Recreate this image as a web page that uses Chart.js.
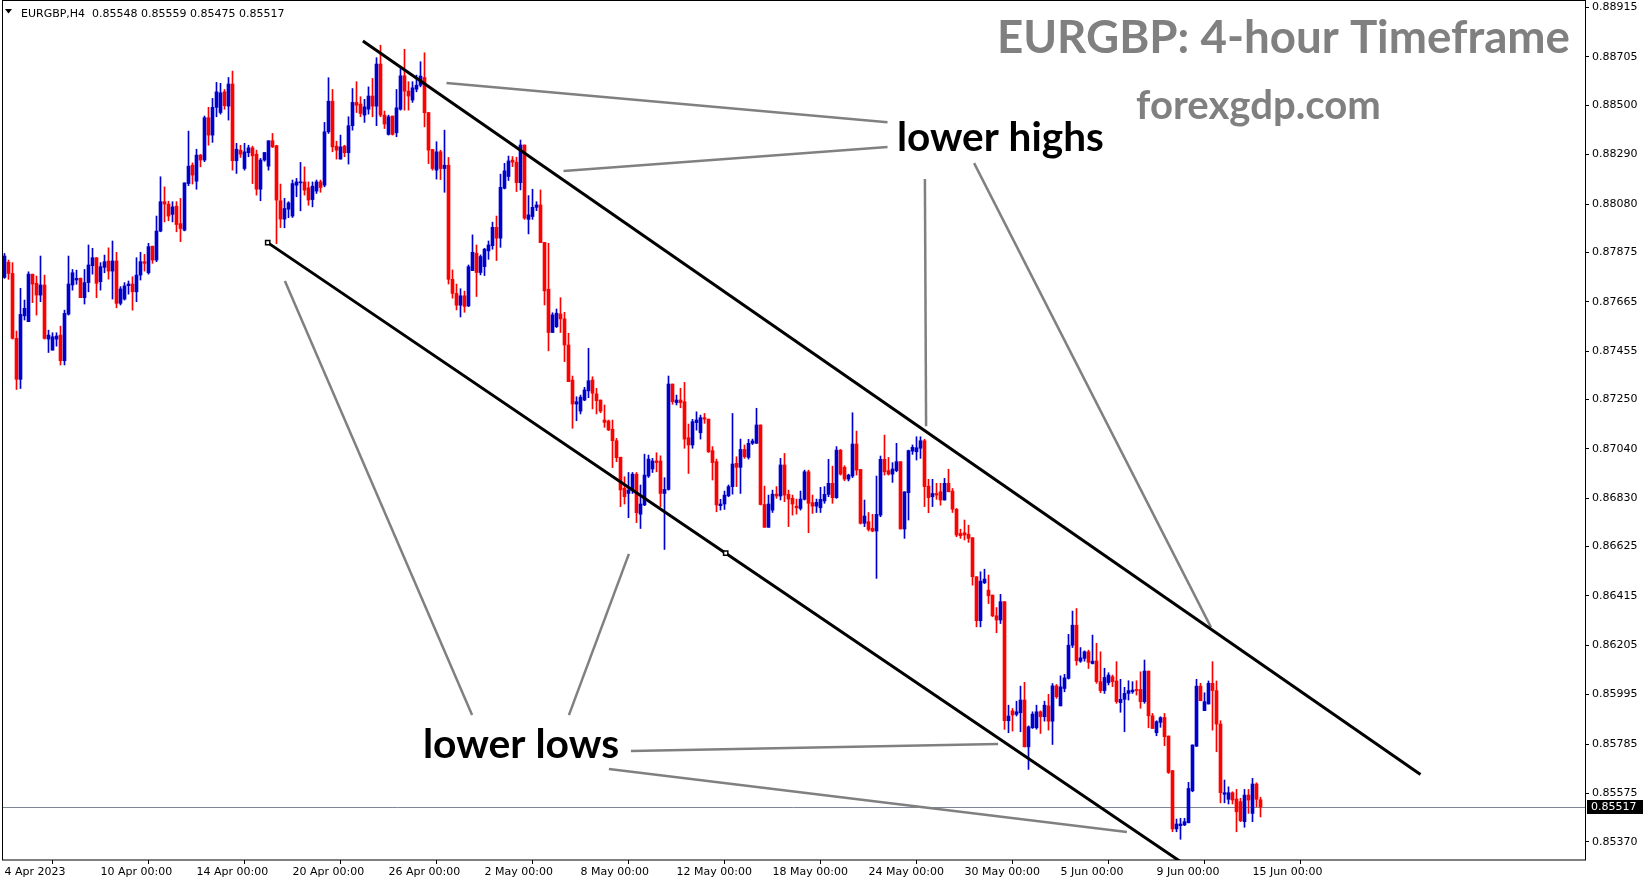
<!DOCTYPE html>
<html>
<head>
<meta charset="utf-8">
<script src="https://cdn.jsdelivr.net/npm/chart.js@4.4.0/dist/chart.umd.min.js"></script>
<style>
  html, body { margin: 0; padding: 0; background: #fff; }
  #wrap { width: 1649px; height: 884px; }
</style>
</head>
<body>
<div id="wrap"><canvas id="chartEurgbp" width="1649" height="884"></canvas></div>
<script>
const SYMBOL = 'EURGBP,H4';

// H4 candles, 4 Apr 2023 00:00 -> 15 Jun 2023 08:00 (one entry per bar)
const OPEN = [
  0.87768, 0.87833, 0.87785, 0.87509, 0.87335, 0.87605, 0.87580, 0.87782, 0.87743, 0.87693,
  0.87736, 0.87506, 0.87459, 0.87506, 0.87523, 0.87414, 0.87612, 0.87736, 0.87757, 0.87765,
  0.87682, 0.87746, 0.87818, 0.87852, 0.87750, 0.87811, 0.87838, 0.87795, 0.87838, 0.87658,
  0.87676, 0.87733, 0.87740, 0.87707, 0.87778, 0.87835, 0.87788, 0.87901, 0.87842, 0.87965,
  0.88090, 0.88080, 0.88036, 0.88071, 0.87997, 0.87969, 0.88167, 0.88245, 0.88177, 0.88288,
  0.88267, 0.88447, 0.88373, 0.88491, 0.88469, 0.88557, 0.88496, 0.88590, 0.88264, 0.88309,
  0.88231, 0.88298, 0.88319, 0.88292, 0.88143, 0.88267, 0.88241, 0.88349, 0.88328, 0.88094,
  0.88016, 0.88058, 0.88029, 0.88160, 0.88170, 0.88174, 0.88149, 0.88099, 0.88135, 0.88174,
  0.88160, 0.88387, 0.88517, 0.88326, 0.88271, 0.88326, 0.88298, 0.88413, 0.88512, 0.88505,
  0.88458, 0.88483, 0.88539, 0.88496, 0.88675, 0.88458, 0.88376, 0.88454, 0.88383, 0.88483,
  0.88625, 0.88560, 0.88522, 0.88568, 0.88585, 0.88618, 0.88469, 0.88312, 0.88224, 0.88302,
  0.88231, 0.88245, 0.87760, 0.87700, 0.87650, 0.87690, 0.87647, 0.87797, 0.87871, 0.87789,
  0.87814, 0.87881, 0.87903, 0.87981, 0.87935, 0.88147, 0.88197, 0.88267, 0.88258, 0.88171,
  0.88331, 0.88015, 0.88027, 0.88066, 0.88076, 0.87917, 0.87718, 0.87534, 0.87559, 0.87613,
  0.87592, 0.87481, 0.87332, 0.87230, 0.87200, 0.87247, 0.87286, 0.87332, 0.87273, 0.87247,
  0.87162, 0.87158, 0.87123, 0.87074, 0.87004, 0.86872, 0.86850, 0.86864, 0.86932, 0.86762,
  0.86801, 0.86924, 0.86954, 0.86988, 0.86988, 0.86850, 0.86867, 0.87315, 0.87236, 0.87247,
  0.87240, 0.87087, 0.87056, 0.87151, 0.87108, 0.87172, 0.87166, 0.87032, 0.86985, 0.86798,
  0.86805, 0.86840, 0.86879, 0.86978, 0.86961, 0.87037, 0.87003, 0.87063, 0.87063, 0.87141,
  0.86803, 0.86706, 0.86779, 0.86847, 0.86839, 0.86971, 0.86846, 0.86829, 0.86796, 0.86786,
  0.86825, 0.86942, 0.86811, 0.86796, 0.86789, 0.86818, 0.86846, 0.86893, 0.86832, 0.87034,
  0.86961, 0.86911, 0.86924, 0.87060, 0.86952, 0.86723, 0.86730, 0.86702, 0.86690, 0.86758,
  0.86995, 0.86947, 0.86932, 0.86947, 0.86985, 0.86699, 0.86853, 0.87030, 0.87027, 0.87042,
  0.87074, 0.86881, 0.86836, 0.86850, 0.86857, 0.86822, 0.86893, 0.86860, 0.86783, 0.86680,
  0.86683, 0.86677, 0.86662, 0.86496, 0.86309, 0.86470, 0.86439, 0.86418, 0.86330, 0.86312,
  0.86390, 0.85884, 0.85926, 0.85911, 0.85918, 0.85972, 0.85773, 0.85854, 0.85854, 0.85922,
  0.85901, 0.85947, 0.85882, 0.86032, 0.85947, 0.86021, 0.86064, 0.86205, 0.86290, 0.86137,
  0.86149, 0.86177, 0.86127, 0.86138, 0.86050, 0.86012, 0.86046, 0.86071, 0.86053, 0.85961,
  0.85975, 0.86000, 0.86007, 0.86017, 0.86017, 0.85965, 0.86095, 0.85905, 0.85833, 0.85877,
  0.85898, 0.85819, 0.85672, 0.85424, 0.85438, 0.85441, 0.85450, 0.85586, 0.85776, 0.86031,
  0.85927, 0.85955, 0.86043, 0.86012, 0.85870, 0.85571, 0.85550, 0.85578, 0.85551, 0.85540,
  0.85455, 0.85568, 0.85490, 0.85615, 0.85548
];
const HIGH = [
  0.87870, 0.87842, 0.87831, 0.87540, 0.87722, 0.87672, 0.87792, 0.87782, 0.87774, 0.87859,
  0.87778, 0.87544, 0.87533, 0.87533, 0.87561, 0.87629, 0.87859, 0.87802, 0.87799, 0.87765,
  0.87802, 0.87906, 0.87892, 0.87852, 0.87831, 0.87863, 0.87894, 0.87923, 0.87875, 0.87729,
  0.87746, 0.87753, 0.87771, 0.87852, 0.87875, 0.87866, 0.87913, 0.87901, 0.88029, 0.88196,
  0.88153, 0.88092, 0.88090, 0.88090, 0.88104, 0.88170, 0.88390, 0.88255, 0.88313, 0.88291,
  0.88454, 0.88491, 0.88529, 0.88597, 0.88593, 0.88567, 0.88618, 0.88645, 0.88338, 0.88330,
  0.88338, 0.88330, 0.88326, 0.88309, 0.88274, 0.88299, 0.88349, 0.88380, 0.88330, 0.88165,
  0.88104, 0.88090, 0.88182, 0.88189, 0.88257, 0.88238, 0.88174, 0.88174, 0.88182, 0.88182,
  0.88427, 0.88617, 0.88567, 0.88347, 0.88373, 0.88330, 0.88451, 0.88571, 0.88600, 0.88536,
  0.88525, 0.88578, 0.88614, 0.88702, 0.88755, 0.88475, 0.88458, 0.88454, 0.88567, 0.88656,
  0.88738, 0.88600, 0.88600, 0.88628, 0.88685, 0.88723, 0.88469, 0.88312, 0.88345, 0.88309,
  0.88394, 0.88278, 0.87800, 0.87740, 0.87720, 0.87710, 0.87821, 0.87949, 0.87906, 0.87864,
  0.87892, 0.87923, 0.88003, 0.88029, 0.88207, 0.88253, 0.88284, 0.88282, 0.88279, 0.88352,
  0.88331, 0.88116, 0.88143, 0.88090, 0.88140, 0.87917, 0.87913, 0.87618, 0.87634, 0.87682,
  0.87620, 0.87531, 0.87349, 0.87261, 0.87268, 0.87301, 0.87467, 0.87346, 0.87297, 0.87247,
  0.87226, 0.87162, 0.87162, 0.87084, 0.87004, 0.86921, 0.86939, 0.86939, 0.86939, 0.86886,
  0.87017, 0.87013, 0.86999, 0.87023, 0.87010, 0.86917, 0.87349, 0.87315, 0.87268, 0.87297,
  0.87322, 0.87145, 0.87165, 0.87197, 0.87183, 0.87190, 0.87166, 0.87049, 0.86996, 0.86825,
  0.86860, 0.86886, 0.87190, 0.87006, 0.87081, 0.87056, 0.87080, 0.87081, 0.87212, 0.87141,
  0.86881, 0.86843, 0.86864, 0.86879, 0.86999, 0.87020, 0.86864, 0.86843, 0.86826, 0.86860,
  0.86949, 0.86949, 0.86843, 0.86826, 0.86876, 0.86879, 0.86995, 0.86966, 0.87049, 0.87037,
  0.86968, 0.86932, 0.87193, 0.87115, 0.86952, 0.86822, 0.86769, 0.86761, 0.86924, 0.87009,
  0.87098, 0.87003, 0.86981, 0.87063, 0.86985, 0.86857, 0.87034, 0.87056, 0.87091, 0.87091,
  0.87080, 0.86910, 0.86910, 0.86893, 0.86893, 0.86914, 0.86953, 0.86871, 0.86786, 0.86698,
  0.86737, 0.86715, 0.86662, 0.86496, 0.86517, 0.86528, 0.86503, 0.86418, 0.86365, 0.86421,
  0.86390, 0.85950, 0.85936, 0.85967, 0.86031, 0.86047, 0.85862, 0.85922, 0.85950, 0.85926,
  0.85967, 0.85996, 0.86042, 0.86038, 0.86075, 0.86081, 0.86251, 0.86350, 0.86361, 0.86195,
  0.86181, 0.86184, 0.86248, 0.86213, 0.86177, 0.86107, 0.86088, 0.86078, 0.86135, 0.86060,
  0.86026, 0.86054, 0.86050, 0.86054, 0.86092, 0.86142, 0.86095, 0.85915, 0.85884, 0.85901,
  0.85915, 0.85819, 0.85672, 0.85466, 0.85469, 0.85469, 0.85622, 0.85781, 0.86060, 0.86043,
  0.86003, 0.86053, 0.86135, 0.86053, 0.85884, 0.85632, 0.85603, 0.85582, 0.85592, 0.85554,
  0.85592, 0.85592, 0.85639, 0.85620, 0.85559
];
const LOW = [
  0.87764, 0.87760, 0.87506, 0.87292, 0.87296, 0.87587, 0.87580, 0.87661, 0.87608, 0.87665,
  0.87506, 0.87449, 0.87459, 0.87476, 0.87396, 0.87396, 0.87608, 0.87714, 0.87739, 0.87682,
  0.87655, 0.87707, 0.87782, 0.87682, 0.87714, 0.87788, 0.87761, 0.87676, 0.87639, 0.87651,
  0.87672, 0.87697, 0.87629, 0.87665, 0.87757, 0.87795, 0.87782, 0.87828, 0.87835, 0.87962,
  0.88004, 0.88009, 0.88004, 0.87962, 0.87920, 0.87966, 0.88158, 0.88165, 0.88143, 0.88238,
  0.88260, 0.88330, 0.88342, 0.88451, 0.88462, 0.88483, 0.88437, 0.88224, 0.88210, 0.88278,
  0.88224, 0.88281, 0.88167, 0.88118, 0.88094, 0.88262, 0.88224, 0.88320, 0.87912, 0.87980,
  0.87979, 0.88022, 0.88023, 0.88111, 0.88051, 0.88118, 0.88075, 0.88068, 0.88125, 0.88130,
  0.88153, 0.88380, 0.88302, 0.88271, 0.88271, 0.88281, 0.88250, 0.88394, 0.88469, 0.88451,
  0.88427, 0.88462, 0.88451, 0.88413, 0.88451, 0.88401, 0.88373, 0.88373, 0.88366, 0.88479,
  0.88479, 0.88479, 0.88512, 0.88557, 0.88578, 0.88408, 0.88252, 0.88224, 0.88186, 0.88184,
  0.88130, 0.87740, 0.87680, 0.87630, 0.87600, 0.87620, 0.87644, 0.87797, 0.87687, 0.87779,
  0.87776, 0.87845, 0.87888, 0.87840, 0.87896, 0.88144, 0.88180, 0.88239, 0.88133, 0.88140,
  0.88015, 0.87953, 0.88015, 0.88052, 0.87916, 0.87651, 0.87456, 0.87534, 0.87555, 0.87534,
  0.87410, 0.87325, 0.87127, 0.87159, 0.87188, 0.87244, 0.87257, 0.87209, 0.87188, 0.87193,
  0.87131, 0.87117, 0.86960, 0.86985, 0.86794, 0.86805, 0.86747, 0.86850, 0.86726, 0.86701,
  0.86798, 0.86918, 0.86939, 0.86942, 0.86794, 0.86612, 0.86864, 0.87229, 0.87226, 0.87214,
  0.87042, 0.86935, 0.87042, 0.87119, 0.87081, 0.87148, 0.87024, 0.86907, 0.86772, 0.86779,
  0.86782, 0.86836, 0.86847, 0.86879, 0.86850, 0.86999, 0.86996, 0.87058, 0.87063, 0.86801,
  0.86706, 0.86706, 0.86769, 0.86829, 0.86822, 0.86815, 0.86709, 0.86758, 0.86762, 0.86779,
  0.86822, 0.86683, 0.86765, 0.86769, 0.86769, 0.86808, 0.86836, 0.86808, 0.86829, 0.86928,
  0.86904, 0.86903, 0.86917, 0.86928, 0.86720, 0.86709, 0.86690, 0.86687, 0.86489, 0.86751,
  0.86928, 0.86928, 0.86897, 0.86942, 0.86699, 0.86659, 0.86737, 0.87016, 0.86992, 0.86999,
  0.86794, 0.86768, 0.86794, 0.86825, 0.86800, 0.86822, 0.86857, 0.86769, 0.86666, 0.86659,
  0.86652, 0.86642, 0.86460, 0.86283, 0.86283, 0.86467, 0.86382, 0.86326, 0.86258, 0.86297,
  0.85847, 0.85833, 0.85840, 0.85904, 0.85837, 0.85773, 0.85677, 0.85851, 0.85848, 0.85830,
  0.85882, 0.85844, 0.85783, 0.85979, 0.85947, 0.86007, 0.86061, 0.86195, 0.86120, 0.86132,
  0.86137, 0.86106, 0.86125, 0.86043, 0.86003, 0.86000, 0.86036, 0.86029, 0.85958, 0.85920,
  0.85837, 0.85972, 0.86000, 0.85993, 0.85937, 0.85958, 0.85854, 0.85851, 0.85820, 0.85856,
  0.85778, 0.85660, 0.85412, 0.85412, 0.85380, 0.85438, 0.85450, 0.85582, 0.85774, 0.85969,
  0.85927, 0.85955, 0.85844, 0.85752, 0.85535, 0.85535, 0.85530, 0.85530, 0.85412, 0.85455,
  0.85431, 0.85490, 0.85455, 0.85518, 0.85475
];
const CLOSE = [
  0.87859, 0.87785, 0.87509, 0.87335, 0.87611, 0.87637, 0.87782, 0.87740, 0.87693, 0.87736,
  0.87509, 0.87523, 0.87516, 0.87519, 0.87414, 0.87615, 0.87740, 0.87788, 0.87764, 0.87682,
  0.87746, 0.87821, 0.87852, 0.87743, 0.87814, 0.87835, 0.87795, 0.87838, 0.87658, 0.87719,
  0.87732, 0.87740, 0.87707, 0.87778, 0.87835, 0.87828, 0.87899, 0.87842, 0.87965, 0.88090,
  0.88080, 0.88029, 0.88068, 0.87993, 0.87976, 0.88170, 0.88241, 0.88203, 0.88288, 0.88267,
  0.88447, 0.88373, 0.88491, 0.88557, 0.88553, 0.88498, 0.88590, 0.88264, 0.88313, 0.88292,
  0.88302, 0.88319, 0.88285, 0.88143, 0.88267, 0.88299, 0.88349, 0.88323, 0.88097, 0.88016,
  0.88061, 0.88085, 0.88167, 0.88174, 0.88174, 0.88139, 0.88097, 0.88156, 0.88174, 0.88150,
  0.88387, 0.88517, 0.88323, 0.88309, 0.88323, 0.88298, 0.88413, 0.88512, 0.88500, 0.88465,
  0.88493, 0.88539, 0.88496, 0.88675, 0.88458, 0.88420, 0.88451, 0.88376, 0.88489, 0.88625,
  0.88560, 0.88539, 0.88574, 0.88585, 0.88624, 0.88468, 0.88309, 0.88231, 0.88302, 0.88231,
  0.88245, 0.87760, 0.87700, 0.87650, 0.87690, 0.87645, 0.87814, 0.87875, 0.87789, 0.87857,
  0.87888, 0.87906, 0.87981, 0.87935, 0.88151, 0.88221, 0.88263, 0.88258, 0.88171, 0.88331,
  0.88020, 0.88034, 0.88066, 0.88076, 0.87916, 0.87711, 0.87534, 0.87609, 0.87616, 0.87592,
  0.87481, 0.87325, 0.87230, 0.87240, 0.87259, 0.87290, 0.87329, 0.87276, 0.87244, 0.87200,
  0.87152, 0.87120, 0.87074, 0.87002, 0.86865, 0.86836, 0.86864, 0.86932, 0.86768, 0.86805,
  0.86928, 0.86996, 0.86988, 0.86981, 0.86850, 0.86867, 0.87315, 0.87240, 0.87247, 0.87236,
  0.87081, 0.87056, 0.87155, 0.87162, 0.87172, 0.87166, 0.87027, 0.86981, 0.86801, 0.86805,
  0.86843, 0.86879, 0.86975, 0.86961, 0.87037, 0.87006, 0.87063, 0.87073, 0.87141, 0.86803,
  0.86706, 0.86805, 0.86847, 0.86839, 0.86971, 0.86843, 0.86826, 0.86805, 0.86789, 0.86826,
  0.86942, 0.86808, 0.86796, 0.86812, 0.86825, 0.86846, 0.86893, 0.86832, 0.87034, 0.86932,
  0.86911, 0.86928, 0.87060, 0.86949, 0.86723, 0.86754, 0.86697, 0.86690, 0.86761, 0.86995,
  0.86942, 0.86932, 0.86954, 0.86985, 0.86699, 0.86857, 0.87032, 0.87046, 0.87044, 0.87074,
  0.86879, 0.86832, 0.86850, 0.86843, 0.86822, 0.86893, 0.86857, 0.86783, 0.86673, 0.86670,
  0.86673, 0.86659, 0.86496, 0.86309, 0.86477, 0.86486, 0.86415, 0.86330, 0.86312, 0.86390,
  0.85884, 0.85904, 0.85908, 0.85922, 0.85972, 0.85773, 0.85858, 0.85912, 0.85922, 0.85901,
  0.85950, 0.85882, 0.86032, 0.85986, 0.86028, 0.86066, 0.86205, 0.86290, 0.86139, 0.86151,
  0.86177, 0.86132, 0.86137, 0.86050, 0.86012, 0.86068, 0.86078, 0.86050, 0.85965, 0.85975,
  0.86000, 0.86012, 0.86014, 0.86012, 0.85965, 0.86095, 0.85905, 0.85851, 0.85880, 0.85897,
  0.85816, 0.85664, 0.85424, 0.85445, 0.85445, 0.85455, 0.85596, 0.85781, 0.86031, 0.85969,
  0.85965, 0.86043, 0.86012, 0.85870, 0.85578, 0.85578, 0.85578, 0.85547, 0.85497, 0.85459,
  0.85568, 0.85547, 0.85615, 0.85550, 0.85517
];

// time axis labels and the bar they sit on
const X_TICK_BARS = [0, 24, 48, 72, 96, 120, 144, 168, 192, 216, 240, 264, 288, 312];
const X_TICK_LABELS = ['4 Apr 2023', '10 Apr 00:00', '14 Apr 00:00', '20 Apr 00:00', '26 Apr 00:00',
  '2 May 00:00', '8 May 00:00', '12 May 00:00', '18 May 00:00', '24 May 00:00', '30 May 00:00',
  '5 Jun 00:00', '9 Jun 00:00', '15 Jun 00:00'];
const Y_TICK_LABELS = ['0.88915', '0.88705', '0.88500', '0.88290', '0.88080', '0.87875', '0.87665',
  '0.87455', '0.87250', '0.87040', '0.86830', '0.86625', '0.86415', '0.86205', '0.85995',
  '0.85785', '0.85575', '0.85370'];

// drawn objects, in (bar, price)
const CHANNEL_UPPER = [{ x: 89.6, y: 0.88773 }, { x: 354, y: 0.85655 }];
const CHANNEL_LOWER = [{ x: 65.8, y: 0.87916 }, { x: 180.3, y: 0.86596 }, { x: 300, y: 0.85216 }];
const POINTER_LINES = [
  [{ x: 110.5, y: 0.88594 }, { x: 220.75, y: 0.88428 }],
  [{ x: 139.75, y: 0.88220 }, { x: 220.75, y: 0.88322 }],
  [{ x: 230.1, y: 0.88186 }, { x: 230.4, y: 0.87136 }],
  [{ x: 242.4, y: 0.88254 }, { x: 301.6, y: 0.86282 }],
  [{ x: 70.1, y: 0.87753 }, { x: 116.9, y: 0.85908 }],
  [{ x: 156.1, y: 0.86593 }, { x: 141.1, y: 0.85908 }],
  [{ x: 156.6, y: 0.85755 }, { x: 248.4, y: 0.85785 }],
  [{ x: 151.1, y: 0.85679 }, { x: 280.6, y: 0.85411 }]
];
const NOTES = [
  { text: 'EURGBP: 4-hour Timeframe', x: 248.1, y: 0.88786, w: 573, color: '#808080' },
  { text: 'forexgdp.com', x: 282.9, y: 0.88496, w: 245, color: '#808080' },
  { text: 'lower highs', x: 223.1, y: 0.88360, w: 207, color: '#000000' },
  { text: 'lower lows', x: 104.6, y: 0.85781, w: 196, color: '#000000' }
];

const BULL = '#0000cd';
const BEAR = '#ff0000';
const AXIS_FONT = { family: 'DejaVu Sans', size: 11 };

const bars = OPEN.map((_, i) => i);
const wicks = bars.map(i => ({ x: i, y: [LOW[i], HIGH[i]] }));
const bodies = bars.map(i => ({ x: i, y: [Math.min(OPEN[i], CLOSE[i]), Math.max(OPEN[i], CLOSE[i])] }));
const colours = bars.map(i => CLOSE[i] >= OPEN[i] ? BULL : BEAR);

function lineSet(data, colour, width, extra) {
  return Object.assign({
    type: 'line', data, borderColor: colour, borderWidth: width,
    pointRadius: 0, pointHoverRadius: 0, tension: 0, clip: 0, order: 0
  }, extra || {});
}

const mt4 = {
  id: 'mt4',
  beforeDraw(chart) {
    const ctx = chart.ctx;
    ctx.save();
    ctx.fillStyle = '#fff';
    ctx.fillRect(0, 0, chart.width, chart.height);
    ctx.restore();
  },
  beforeDatasetsDraw(chart) {
    // bid line
    const { ctx, chartArea: a, scales: { y } } = chart;
    const py = Math.round(y.getPixelForValue(CLOSE[CLOSE.length - 1])) + 0.5;
    ctx.save();
    ctx.strokeStyle = '#7b8794';
    ctx.lineWidth = 1;
    ctx.beginPath();
    ctx.moveTo(a.left, py);
    ctx.lineTo(a.right, py);
    ctx.stroke();
    ctx.restore();
  },
  afterDraw(chart) {
    const { ctx, chartArea: a, scales: { x, y } } = chart;
    ctx.save();

    // frame
    ctx.strokeStyle = '#000';
    ctx.lineWidth = 1;
    ctx.strokeRect(a.left + 0.5, a.top - 0.5, a.right - a.left, a.bottom - a.top + 0.5);

    // header
    const n = OPEN.length - 1;
    ctx.fillStyle = '#000';
    ctx.beginPath();
    ctx.moveTo(5, 9); ctx.lineTo(12, 9); ctx.lineTo(8.5, 13.5); ctx.closePath();
    ctx.fill();
    ctx.font = '11px "DejaVu Sans"';
    ctx.textBaseline = 'alphabetic';
    ctx.textAlign = 'left';
    const f = v => v.toFixed(5);
    ctx.fillText(`${SYMBOL}  ${f(OPEN[n])} ${f(HIGH[n])} ${f(LOW[n])} ${f(CLOSE[n])}`, 21, 17);

    // bid price box
    const py = Math.round(y.getPixelForValue(CLOSE[n]));
    ctx.fillStyle = '#000';
    ctx.fillRect(a.right + 2, py - 7, 56, 14);
    ctx.fillStyle = '#fff';
    ctx.textBaseline = 'middle';
    ctx.fillText(f(CLOSE[n]), a.right + 6, py + 0.5);

    // annotation texts
    NOTES.forEach(t => {
      ctx.font = 'bold 40px Lato';
      const size = 40 * t.w / ctx.measureText(t.text).width;
      ctx.font = `bold ${size.toFixed(1)}px Lato`;
      ctx.fillStyle = t.color;
      ctx.textBaseline = 'middle';
      ctx.fillText(t.text, x.getPixelForValue(t.x), y.getPixelForValue(t.y));
    });
    ctx.restore();
  }
};

const datasets = [
  { type: 'bar', data: bodies, backgroundColor: colours, barThickness: 3, minBarLength: 1, grouped: false, order: 1 },
  { type: 'bar', data: wicks, backgroundColor: colours, barThickness: 1, grouped: false, order: 2 },
  lineSet(CHANNEL_UPPER, '#000', 3),
  lineSet(CHANNEL_LOWER, '#000', 3, {
    pointRadius: [3, 3, 0], pointStyle: 'rect', pointBackgroundColor: '#fff',
    pointBorderColor: '#000', pointBorderWidth: 1.5
  })
];
POINTER_LINES.forEach(p => datasets.push(lineSet(p, '#808080', 2.5)));

new Chart(document.getElementById('chartEurgbp'), {
  type: 'bar',
  data: { datasets },
  options: {
    responsive: false,
    animation: false,
    devicePixelRatio: 1,
    events: [],
    layout: { autoPadding: false, padding: { left: 2, top: 1, right: 0, bottom: 0 } },
    plugins: { legend: { display: false }, tooltip: { enabled: false } },
    scales: {
      x: {
        type: 'linear',
        min: -0.625,
        max: 395.125,
        offset: false,
        grid: { drawOnChartArea: false, drawTicks: true, tickLength: 4, tickColor: '#000' },
        border: { display: false },
        ticks: {
          autoSkip: false, maxRotation: 0, align: 'start', padding: 2, color: '#000', font: AXIS_FONT,
          callback: v => { const k = X_TICK_BARS.indexOf(v); return k >= 0 ? X_TICK_LABELS[k] : ''; }
        },
        afterBuildTicks: s => { s.ticks = X_TICK_BARS.map(v => ({ value: v })); },
        afterFit: s => { s.height = 24; s.paddingLeft = 0; s.paddingRight = 0; }
      },
      y: {
        type: 'linear',
        position: 'right',
        min: 0.85292,
        max: 0.88943,
        grid: { drawOnChartArea: false, drawTicks: true, tickLength: 4, tickColor: '#000' },
        border: { display: false },
        ticks: {
          padding: 3, color: '#000', font: AXIS_FONT,
          callback: (v, i) => Y_TICK_LABELS[i]
        },
        afterBuildTicks: s => { s.ticks = Y_TICK_LABELS.map(t => ({ value: parseFloat(t) })); },
        afterFit: s => { s.width = 64; s.paddingTop = 0; s.paddingBottom = 0; }
      }
    }
  },
  plugins: [mt4]
});
</script>
</body>
</html>
